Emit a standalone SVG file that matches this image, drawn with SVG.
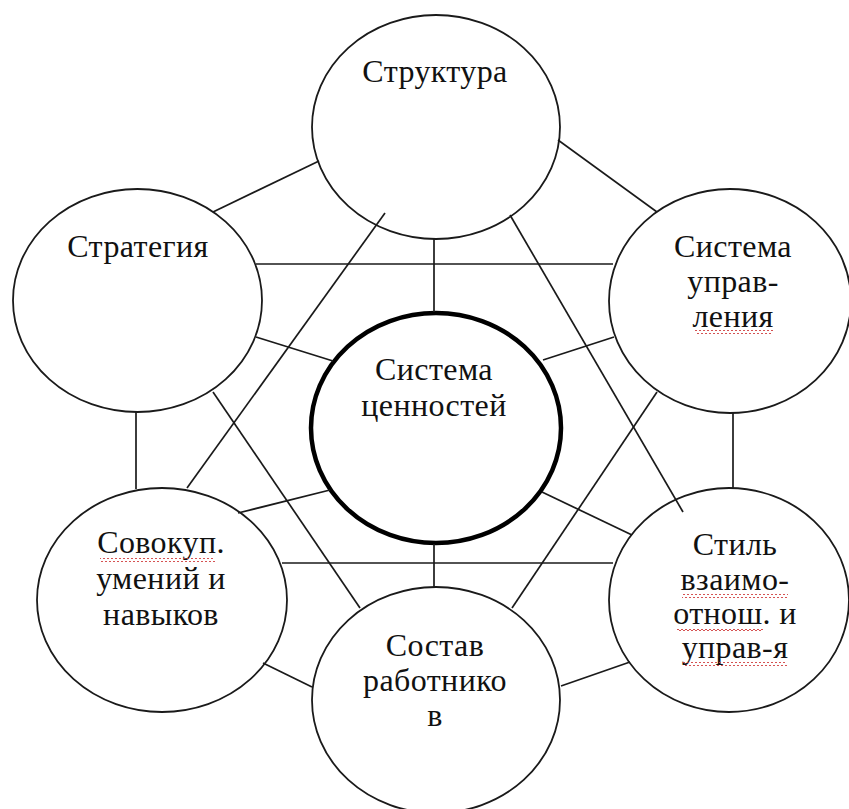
<svg xmlns="http://www.w3.org/2000/svg" width="849" height="809" viewBox="0 0 849 809">
<style>
.n{fill:#fff;stroke:#1a1a1a;stroke-width:1.8}
.c{fill:#fff;stroke:#000;stroke-width:4.5}
.t{font-family:'Liberation Serif','Times New Roman',serif;font-size:32px;letter-spacing:0.4px;fill:#111;text-anchor:middle}
#connectors line{stroke:#1a1a1a;stroke-width:1.7}
.w{fill:url(#wave)}
</style>
<defs>
<pattern id="wave" width="4" height="4" patternUnits="userSpaceOnUse">
<path d="M0,3 L2,1 L4,3" fill="none" stroke="#d04040" stroke-width="0.9"/>
</pattern>
</defs>
<rect width="849" height="809" fill="#fff"/>
<g id="structure">
<ellipse class="n" cx="436" cy="127" rx="124" ry="112"/>
<text class="t" x="435" y="82">Структура</text>
</g>
<g id="strategy">
<ellipse class="n" cx="137.5" cy="300.5" rx="124.5" ry="111.5"/>
<text class="t" x="138" y="257">Стратегия</text>
</g>
<g id="management-system">
<ellipse class="n" cx="730" cy="301" rx="121" ry="112"/>
<text class="t" x="733" y="257">Система</text>
<text class="t" x="733" y="292">управ-</text>
<text class="t" x="733" y="327">ления</text>
<rect class="w" x="695" y="330" width="78" height="4"/>
</g>
<g id="values">
<ellipse class="c" cx="436" cy="428" rx="125" ry="115"/>
<text class="t" x="434" y="380">Система</text>
<text class="t" x="434" y="416">ценностей</text>
</g>
<g id="skills">
<ellipse class="n" cx="162" cy="600" rx="125" ry="112"/>
<text class="t" x="161" y="553">Совокуп.</text>
<text class="t" x="161" y="589">умений и</text>
<text class="t" x="161" y="625">навыков</text>
<rect class="w" x="100" y="558" width="115" height="4"/>
</g>
<g id="style">
<ellipse class="n" cx="729" cy="600" rx="120" ry="112"/>
<text class="t" x="735" y="555">Стиль</text>
<text class="t" x="735" y="590">взаимо-</text>
<text class="t" x="735" y="624">отнош. и</text>
<text class="t" x="735" y="658">управ-я</text>
<rect class="w" x="682" y="594" width="106" height="4"/>
<rect class="w" x="677" y="627" width="86" height="4"/>
<rect class="w" x="683" y="662" width="104" height="4"/>
</g>
<g id="staff">
<ellipse class="n" cx="436" cy="700" rx="124" ry="113"/>
<text class="t" x="435" y="656">Состав</text>
<text class="t" x="435" y="691">работнико</text>
<text class="t" x="435" y="726">в</text>
</g>
<g id="connectors">
<line x1="213" y1="212" x2="319" y2="161"/>
<line x1="558" y1="140" x2="657" y2="212"/>
<line x1="256" y1="264" x2="613" y2="264"/>
<line x1="434" y1="239" x2="434" y2="312"/>
<line x1="256" y1="337" x2="333" y2="361"/>
<line x1="543" y1="360" x2="614" y2="337"/>
<line x1="136" y1="412" x2="136" y2="489"/>
<line x1="733" y1="413" x2="733" y2="489"/>
<line x1="385" y1="213" x2="187" y2="488"/>
<line x1="510" y1="215" x2="683" y2="512"/>
<line x1="213" y1="392" x2="360" y2="608"/>
<line x1="657" y1="392" x2="512" y2="608"/>
<line x1="238" y1="513" x2="330" y2="490"/>
<line x1="542" y1="492" x2="632" y2="535"/>
<line x1="282" y1="563" x2="613" y2="563"/>
<line x1="434" y1="544" x2="434" y2="588"/>
<line x1="263" y1="663" x2="312" y2="687"/>
<line x1="561" y1="686" x2="630" y2="662"/>
</g>
</svg>
